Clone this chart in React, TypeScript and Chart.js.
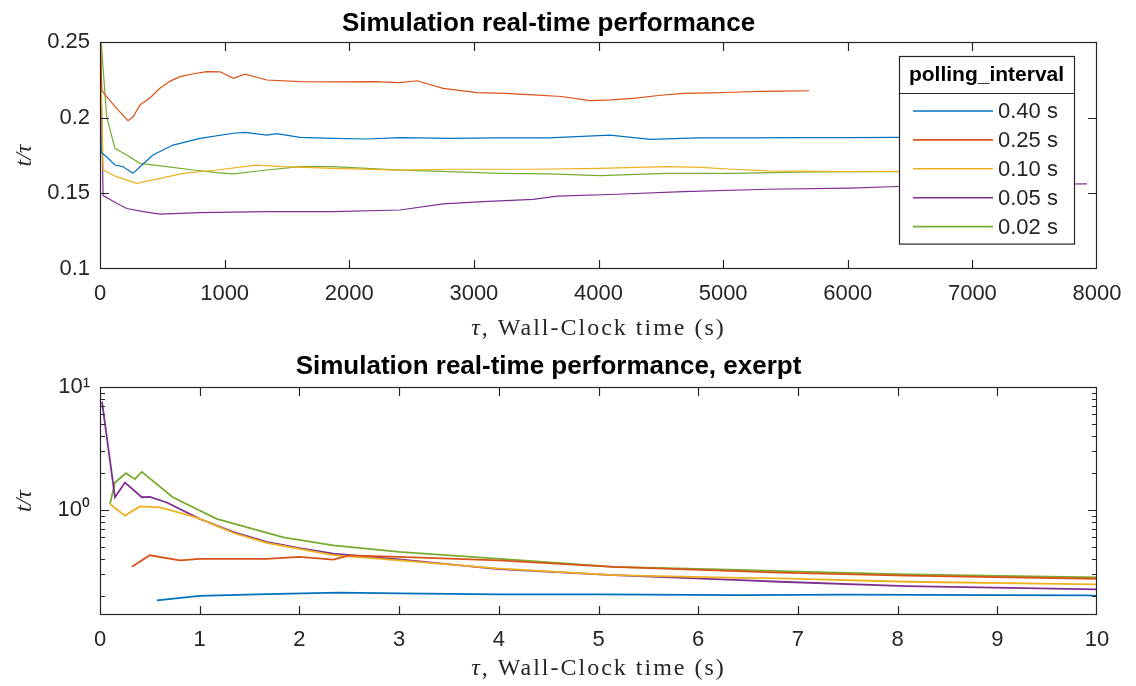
import React, { useEffect, useRef } from 'react';
import { Chart, registerables } from 'chart.js';

Chart.register(...registerables);

const COLORS = ['#0072BD', '#D95319', '#EDB120', '#7E2F8E', '#77AC30'];
const SERIES_LABELS = ['0.40 s', '0.25 s', '0.10 s', '0.05 s', '0.02 s'];
const LEGEND_TITLE = 'polling_interval';
const TOP_TITLE = 'Simulation real-time performance';
const BOTTOM_TITLE = 'Simulation real-time performance, exerpt';
const X_LABEL_SYMBOL = 'τ';
const X_LABEL_TEXT = ', Wall-Clock time (s)';
const Y_LABEL = 't/τ';

const TOP_X_TICKS = [0, 1000, 2000, 3000, 4000, 5000, 6000, 7000, 8000];
const TOP_Y_TICKS = [0.1, 0.15, 0.2, 0.25];
const BOTTOM_X_TICKS = [0, 1, 2, 3, 4, 5, 6, 7, 8, 9, 10];
const BOTTOM_Y_TICKS = [0.2, 0.3, 0.4, 0.5, 0.6, 0.7, 0.8, 0.9, 1, 2, 3, 4, 5, 6, 7, 8, 9, 10];
const BOTTOM_Y_MAJOR_VALUES = [1, 10];
const BOTTOM_Y_MAJOR_LABELS = ['10⁰', '10¹'];

// ---- Top panel (full run) ----
const TOP_T_040 = [0, 10, 53, 120, 185, 265, 321, 425, 586, 803, 1070, 1164, 1338, 1418, 1605, 1872, 2140, 2408, 2800, 3200, 3600, 4093, 4414, 4800, 5200, 5600, 6000, 6400, 6800, 7200];
const TOP_V_040 = [0.2, 0.177, 0.1742, 0.1687, 0.1676, 0.1632, 0.1676, 0.1753, 0.1819, 0.1863, 0.1897, 0.1903, 0.1885, 0.1895, 0.187, 0.1863, 0.1859, 0.1868, 0.1863, 0.1866, 0.1866, 0.1885, 0.1857, 0.1866, 0.1866, 0.1868, 0.1868, 0.187, 0.187, 0.187];

const TOP_T_025 = [0, 15, 53, 133, 225, 265, 321, 400, 481, 560, 642, 750, 858, 965, 1070, 1164, 1338, 1605, 1900, 2200, 2408, 2544, 2753, 3026, 3250, 3475, 3700, 3933, 4100, 4278, 4500, 4679, 4900, 5080, 5300, 5482, 5690];
const TOP_V_025 = [0.26, 0.218, 0.2139, 0.2062, 0.198, 0.2006, 0.2084, 0.213, 0.2194, 0.224, 0.2271, 0.229, 0.2304, 0.2303, 0.226, 0.2287, 0.2249, 0.2238, 0.2236, 0.2238, 0.2231, 0.2244, 0.2194, 0.2165, 0.216, 0.215, 0.214, 0.2112, 0.2118, 0.2128, 0.2148, 0.2161, 0.2164, 0.2168, 0.2174, 0.2176, 0.2178];

const TOP_T_010 = [0, 25, 133, 294, 481, 668, 937, 1257, 1472, 1872, 2408, 2800, 3200, 3475, 4000, 4547, 4815, 5080, 5353, 6019, 6400, 6800, 7200];
const TOP_V_010 = [0.26, 0.1654, 0.161, 0.1566, 0.1599, 0.1632, 0.1654, 0.1687, 0.1676, 0.1665, 0.1654, 0.1659, 0.1659, 0.1659, 0.1665, 0.1676, 0.1672, 0.1659, 0.1648, 0.1643, 0.1645, 0.1645, 0.1645];

const TOP_T_005 = [0, 25, 133, 214, 348, 481, 803, 1338, 1872, 2408, 2753, 3074, 3475, 3668, 4149, 4679, 5353, 6019, 6400, 6800, 7200, 7600, 7920];
const TOP_V_005 = [0.26, 0.1485, 0.1434, 0.14, 0.1379, 0.1363, 0.1372, 0.1379, 0.1379, 0.139, 0.143, 0.1445, 0.146, 0.1482, 0.1494, 0.1511, 0.1527, 0.1535, 0.1545, 0.155, 0.1555, 0.156, 0.1562];

const TOP_T_002 = [0, 10, 53, 120, 214, 321, 535, 750, 937, 1070, 1338, 1605, 1872, 2408, 2800, 3210, 3600, 4013, 4547, 5080, 5600, 6000, 6400, 6800, 7200];
const TOP_V_002 = [0.26, 0.25, 0.2006, 0.1797, 0.1753, 0.1698, 0.1676, 0.1654, 0.1637, 0.1628, 0.1654, 0.1676, 0.1676, 0.1654, 0.1643, 0.1632, 0.1628, 0.1617, 0.1632, 0.1632, 0.164, 0.1643, 0.1643, 0.1643, 0.1643];

// ---- Bottom panel (first 10 s, log scale) ----
const BOT_T_040 = [0.57, 1.0, 1.67, 2.4, 3.0, 4.0, 5.0, 6.42, 7.5, 9.0, 9.9, 10];
const BOT_V_040 = [0.184, 0.2, 0.207, 0.213, 0.21, 0.206, 0.206, 0.203, 0.205, 0.203, 0.202, 0.2];

const BOT_T_025 = [0.32, 0.5, 0.8, 1.0, 1.67, 2.0, 2.34, 2.5, 3.0, 4.0, 5.15, 6.82, 8.09, 10];
const BOT_V_025 = [0.345, 0.428, 0.39, 0.4, 0.4, 0.415, 0.395, 0.428, 0.415, 0.39, 0.345, 0.31, 0.293, 0.276];

const BOT_T_010 = [0.1, 0.25, 0.4, 0.6, 0.84, 1.0, 1.34, 1.67, 2.34, 3.0, 3.98, 5.15, 6.42, 6.82, 8.09, 10];
const BOT_V_010 = [1.12, 0.9, 1.07, 1.05, 0.93, 0.85, 0.65, 0.54, 0.43, 0.39, 0.335, 0.295, 0.281, 0.278, 0.261, 0.248];

const BOT_T_005 = [0.02, 0.15, 0.25, 0.42, 0.5, 0.67, 1.0, 1.34, 1.67, 2.0, 2.34, 3.0, 4.0, 5.15, 6.42, 6.82, 8.09, 10];
const BOT_V_005 = [7.6, 1.27, 1.67, 1.27, 1.28, 1.15, 0.846, 0.66, 0.55, 0.49, 0.442, 0.397, 0.33, 0.295, 0.269, 0.261, 0.24, 0.226];

const BOT_T_002 = [0.1, 0.15, 0.26, 0.35, 0.42, 0.73, 1.17, 1.84, 2.34, 3.0, 3.98, 5.15, 6.42, 6.82, 8.09, 10];
const BOT_V_002 = [1.12, 1.67, 1.99, 1.78, 2.04, 1.27, 0.846, 0.6, 0.515, 0.456, 0.403, 0.345, 0.325, 0.318, 0.299, 0.283];

const TOP_SERIES = [
  [TOP_T_040, TOP_V_040],
  [TOP_T_025, TOP_V_025],
  [TOP_T_010, TOP_V_010],
  [TOP_T_005, TOP_V_005],
  [TOP_T_002, TOP_V_002],
];
const BOTTOM_SERIES = [
  [BOT_T_040, BOT_V_040],
  [BOT_T_025, BOT_V_025],
  [BOT_T_010, BOT_V_010],
  [BOT_T_005, BOT_V_005],
  [BOT_T_002, BOT_V_002],
];

const SANS = "'Liberation Sans', Arial, Helvetica, sans-serif";
const SERIF = "'Liberation Serif', 'Times New Roman', serif";
const AXIS_COLOR = '#262626';

function isNiceLogTick(v: number) {
  const e = Math.floor(Math.log10(v) + 1e-9);
  const s = v / Math.pow(10, e);
  return { nice: Math.abs(s - Math.round(s)) < 1e-6, major: Math.abs(s - 1) < 1e-6 };
}

const framePlugin = {
  id: 'frame',
  afterDatasetsDraw(chart: any, _args: any, opts: any) {
    const { ctx, chartArea: a, scales } = chart;
    const xs = scales.x;
    const ys = scales.y;
    const L = 9;
    const LM = 5;
    ctx.save();
    ctx.strokeStyle = AXIS_COLOR;
    ctx.lineWidth = 1.2;
    ctx.beginPath();
    xs.ticks.forEach((t: any) => {
      const px = Math.round(xs.getPixelForValue(t.value)) + 0.5;
      if (px <= a.left + 1 || px >= a.right - 1) return;
      ctx.moveTo(px, a.bottom);
      ctx.lineTo(px, a.bottom - L);
      ctx.moveTo(px, a.top);
      ctx.lineTo(px, a.top + L);
    });
    ys.ticks.forEach((t: any) => {
      const py = Math.round(ys.getPixelForValue(t.value)) + 0.5;
      if (py <= a.top + 1 || py >= a.bottom - 1) return;
      let len = L;
      if (opts && opts.log) {
        const info = isNiceLogTick(t.value);
        len = info.major ? L : LM;
      }
      ctx.moveTo(a.left, py);
      ctx.lineTo(a.left + len, py);
      ctx.moveTo(a.right, py);
      ctx.lineTo(a.right - len, py);
    });
    ctx.stroke();
    ctx.strokeRect(a.left + 0.5, a.top + 0.5, a.right - a.left - 1, a.bottom - a.top - 1);
    ctx.restore();
  },
};

const axisTitlePlugin = {
  id: 'axisTitles',
  afterDraw(chart: any, _args: any, opts: any) {
    const { ctx, chartArea: a } = chart;
    ctx.save();
    ctx.fillStyle = AXIS_COLOR;
    ctx.textBaseline = 'alphabetic';
    // x title
    const size = opts.size || 24;
    const fItalic = `italic ${size}px ${SERIF}`;
    const fRoman = `${size}px ${SERIF}`;
    (ctx as any).letterSpacing = opts.spacing || '0px';
    ctx.font = fItalic;
    const w1 = ctx.measureText(X_LABEL_SYMBOL).width;
    ctx.font = fRoman;
    const w2 = ctx.measureText(X_LABEL_TEXT).width;
    const cx = (a.left + a.right) / 2;
    const x0 = cx - (w1 + w2) / 2;
    const by = a.bottom + opts.xOffset;
    ctx.textAlign = 'left';
    ctx.font = fItalic;
    ctx.fillText(X_LABEL_SYMBOL, x0, by);
    ctx.font = fRoman;
    ctx.fillText(X_LABEL_TEXT, x0 + w1, by);
    (ctx as any).letterSpacing = '0px';
    // y title
    ctx.translate(opts.yX, (a.top + a.bottom) / 2);
    ctx.rotate(-Math.PI / 2);
    ctx.font = fItalic;
    ctx.textAlign = 'center';
    ctx.textBaseline = 'middle';
    ctx.fillText(Y_LABEL, 0, 0);
    ctx.restore();
  },
};

const boxLegendPlugin = {
  id: 'boxLegend',
  afterDatasetsDraw(chart: any, _args: any, opts: any) {
    if (!opts || !opts.show) return;
    const { ctx, chartArea: a } = chart;
    const left = a.left + opts.left;
    const top = a.top + opts.top;
    const w = opts.width;
    const titleH = opts.titleH;
    const rowH = opts.rowH;
    const ds = chart.data.datasets;
    const h = titleH + opts.firstGap + rowH * (ds.length - 1) + opts.lastGap;
    ctx.save();
    ctx.fillStyle = '#ffffff';
    ctx.fillRect(left, top, w, h);
    ctx.strokeStyle = AXIS_COLOR;
    ctx.lineWidth = 1.2;
    ctx.strokeRect(left + 0.5, top + 0.5, w, h);
    ctx.beginPath();
    ctx.moveTo(left, top + titleH + 0.5);
    ctx.lineTo(left + w, top + titleH + 0.5);
    ctx.stroke();
    ctx.fillStyle = '#000000';
    ctx.font = `bold 21px ${SANS}`;
    ctx.textAlign = 'center';
    ctx.textBaseline = 'middle';
    ctx.fillText(LEGEND_TITLE, left + w / 2, top + titleH / 2 + 1);
    ds.forEach((d: any, i: number) => {
      const y = top + titleH + opts.firstGap + i * rowH;
      ctx.strokeStyle = d.borderColor;
      ctx.lineWidth = 1.6;
      ctx.beginPath();
      ctx.moveTo(left + 14, y);
      ctx.lineTo(left + 94, y);
      ctx.stroke();
      ctx.fillStyle = AXIS_COLOR;
      ctx.font = `22px ${SANS}`;
      ctx.textAlign = 'left';
      ctx.fillText(d.label, left + 99, y + 1);
    });
    ctx.restore();
  },
};

function buildDatasets(series: number[][][], width: number) {
  return series.map((s, i) => ({
    label: SERIES_LABELS[i],
    data: s[0].map((t, j) => ({ x: t, y: s[1][j] })),
    borderColor: COLORS[i],
    backgroundColor: COLORS[i],
    borderWidth: width,
    pointRadius: 0,
    fill: false,
    tension: 0,
  }));
}

function makeConfig(kind: 'top' | 'bottom'): any {
  const isTop = kind === 'top';
  return {
    type: 'line',
    data: { datasets: buildDatasets(isTop ? TOP_SERIES : BOTTOM_SERIES, isTop ? 1.2 : 1.8) },
    plugins: [framePlugin, axisTitlePlugin, boxLegendPlugin],
    options: {
      animation: false,
      responsive: false,
      events: [],
      layout: { padding: { left: 0, right: 39, top: 0, bottom: 0 } },
      plugins: {
        legend: { display: false },
        tooltip: { enabled: false },
        title: {
          display: true,
          text: isTop ? TOP_TITLE : BOTTOM_TITLE,
          color: '#000000',
          font: { family: SANS, size: 26, weight: 'bold', lineHeight: 1.2 },
          padding: isTop ? { top: 8.4, bottom: 2.4 } : { top: 8.4, bottom: 4.4 },
        },
        frame: { log: !isTop },
        axisTitles: { xOffset: isTop ? 66 : 60, yX: 25, size: 24, spacing: '2px' },
        boxLegend: isTop
          ? { show: true, left: 799, top: 14, width: 175, titleH: 37, rowH: 28.9, firstGap: 18, lastGap: 17 }
          : { show: false },
      },
      scales: {
        x: {
          type: 'linear',
          min: 0,
          max: isTop ? 8000 : 10,
          afterBuildTicks: (s: any) => {
            s.ticks = (isTop ? TOP_X_TICKS : BOTTOM_X_TICKS).map((v) => ({ value: v }));
          },
          afterFit: (s: any) => {
            s.height = isTop ? 74 : 71;
          },
          ticks: {
            callback: (v: any) => String(v),
            color: AXIS_COLOR,
            font: { family: SANS, size: 22 },
            padding: 12,
            maxRotation: 0,
            autoSkip: false,
          },
          grid: { display: false, drawTicks: false },
          border: { display: false },
        },
        y: isTop
          ? {
              type: 'linear',
              min: 0.1,
              max: 0.25,
              afterBuildTicks: (s: any) => {
                s.ticks = TOP_Y_TICKS.map((v) => ({ value: v }));
              },
              afterFit: (s: any) => {
                s.width = 100;
              },
              ticks: {
                callback: (v: any) => String(v),
                color: AXIS_COLOR,
                font: { family: SANS, size: 22 },
                padding: 10,
                autoSkip: false,
              },
              grid: { display: false, drawTicks: false },
              border: { display: false },
            }
          : {
              type: 'logarithmic',
              min: 0.14,
              max: 10,
              afterBuildTicks: (s: any) => {
                s.ticks = BOTTOM_Y_TICKS.map((v) => ({ value: v, major: isNiceLogTick(v).major }));
              },
              afterFit: (s: any) => {
                s.width = 100;
              },
              ticks: {
                callback: (v: any) => {
                  const idx = BOTTOM_Y_MAJOR_VALUES.indexOf(v);
                  return idx >= 0 ? BOTTOM_Y_MAJOR_LABELS[idx] : '';
                },
                color: AXIS_COLOR,
                font: { family: SANS, size: 22 },
                padding: 10,
                autoSkip: false,
              },
              grid: { display: false, drawTicks: false },
              border: { display: false },
            },
      },
    },
  };
}

function Panel({ kind }: { kind: 'top' | 'bottom' }) {
  const ref = useRef<HTMLCanvasElement | null>(null);
  useEffect(() => {
    if (!ref.current) return;
    const chart = new Chart(ref.current, makeConfig(kind));
    return () => chart.destroy();
  }, [kind]);
  return <canvas ref={ref} width={1136} height={343} style={{ display: 'block', width: 1136, height: 343 }} />;
}

export default function App() {
  return (
    <div style={{ position: 'absolute', left: 0, top: 0, width: 1136, height: 686, background: '#ffffff' }}>
      <Panel kind="top" />
      <Panel kind="bottom" />
    </div>
  );
}
